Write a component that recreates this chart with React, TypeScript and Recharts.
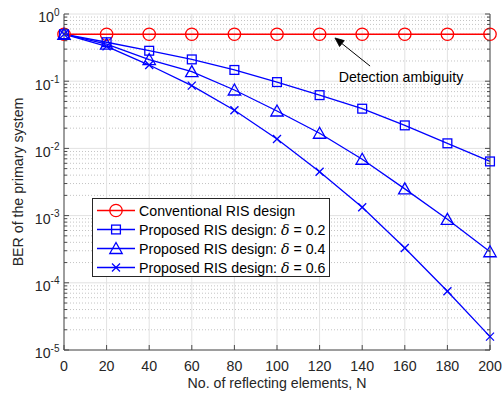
import React from 'react';
import { LineChart, Line, XAxis, YAxis, CartesianGrid, ReferenceLine, ReferenceDot } from 'recharts';

const N = [0, 20, 40, 60, 80, 100, 120, 140, 160, 180, 200];
const conventional = [0.5, 0.5, 0.5, 0.5, 0.5, 0.5, 0.5, 0.5, 0.5, 0.5, 0.5];
const delta02 = [0.5, 0.38, 0.284, 0.211, 0.147, 0.097, 0.062, 0.039, 0.022, 0.0119, 0.0064];
const delta04 = [0.5, 0.355, 0.21, 0.139, 0.074, 0.036, 0.0168, 0.0069, 0.0025, 0.00088, 0.00029];
const delta06 = [0.5, 0.33, 0.174, 0.086, 0.037, 0.0138, 0.0045, 0.00133, 0.00033, 0.000075, 0.0000158];

const xTicks = [0, 20, 40, 60, 80, 100, 120, 140, 160, 180, 200];
const majorExp = [0, -1, -2, -3, -4, -5];
const majorY = [1, 0.1, 0.01, 0.001, 0.0001, 0.00001];
const minorY = [
  0.9, 0.8, 0.7, 0.6, 0.5, 0.4, 0.3, 0.2,
  0.09, 0.08, 0.07, 0.06, 0.05, 0.04, 0.03, 0.02,
  0.009, 0.008, 0.007, 0.006, 0.005, 0.004, 0.003, 0.002,
  0.0009, 0.0008, 0.0007, 0.0006, 0.0005, 0.0004, 0.0003, 0.0002,
  0.00009, 0.00008, 0.00007, 0.00006, 0.00005, 0.00004, 0.00003, 0.00002,
];
const allY = [...majorY, ...minorY];

const seriesNames = [
  'Conventional RIS design',
  'Proposed RIS design: ',
  'Proposed RIS design: ',
  'Proposed RIS design: ',
];
const deltaLabels = ['', '0.2', '0.4', '0.6'];
const annotationText = 'Detection ambiguity';

const rows = N.map((n, i) => ({
  n,
  conv: conventional[i],
  d02: delta02[i],
  d04: delta04[i],
  d06: delta06[i],
}));

const FONT = 'Liberation Sans, Arial, Helvetica, sans-serif';
const FS = 14.2;
const TXT = '#262626';
const AX = '#4a4a4a';
const RED = '#ff0000';
const BLUE = '#0000ff';

type Shape = 'circle' | 'square' | 'triangle' | 'cross';

function Marker({ shape, cx, cy, color }: { shape: Shape; cx: number; cy: number; color: string }) {
  const sw = 1.3;
  if (shape === 'circle') return <circle cx={cx} cy={cy} r={6.2} fill="none" stroke={color} strokeWidth={sw} />;
  if (shape === 'square') return <rect x={cx - 4.4} y={cy - 4.4} width={8.8} height={8.8} fill="none" stroke={color} strokeWidth={sw} />;
  if (shape === 'triangle')
    return (
      <polygon
        points={`${cx},${cy - 6} ${cx - 6.2},${cy + 5} ${cx + 6.2},${cy + 5}`}
        fill="none"
        stroke={color}
        strokeWidth={sw}
      />
    );
  return (
    <g stroke={color} strokeWidth={sw}>
      <line x1={cx - 4} y1={cy - 4} x2={cx + 4} y2={cy + 4} />
      <line x1={cx - 4} y1={cy + 4} x2={cx + 4} y2={cy - 4} />
    </g>
  );
}

const dotFor = (shape: Shape, color: string) => (p: any) => (
  <Marker key={`${shape}-${p.index}`} shape={shape} cx={p.cx} cy={p.cy} color={color} />
);

const isMajor = (v: number) => majorY.some((m) => Math.abs(m - v) / m < 1e-6);

function LeftTick(props: any) {
  const { x, y, payload } = props;
  const v = payload.value as number;
  const major = isMajor(v);
  const idx = majorY.findIndex((m) => Math.abs(m - v) / m < 1e-6);
  return (
    <g>
      <line x1={x} y1={y} x2={x + (major ? 5 : 3)} y2={y} stroke={AX} strokeWidth={1} />
      {major && (
        <text x={x - 4.5} y={y + 8.4} textAnchor="end" fill={TXT} fontFamily={FONT} fontSize={FS}>
          <tspan>10</tspan>
          <tspan dy={-6.8} fontSize={10}>{String(majorExp[idx])}</tspan>
        </text>
      )}
    </g>
  );
}

function RightTick(props: any) {
  const { x, y, payload } = props;
  const major = isMajor(payload.value);
  return <line x1={x} y1={y} x2={x - (major ? 5 : 3)} y2={y} stroke={AX} strokeWidth={1} />;
}

function BottomTick(props: any) {
  const { x, y, payload } = props;
  return (
    <g>
      <line x1={x} y1={y} x2={x} y2={y - 5} stroke={AX} strokeWidth={1} />
      <text x={x} y={y + 21} textAnchor="middle" fill={TXT} fontFamily={FONT} fontSize={FS}>
        {payload.value}
      </text>
    </g>
  );
}

function TopTick(props: any) {
  const { x, y } = props;
  return <line x1={x} y1={y} x2={x} y2={y + 5} stroke={AX} strokeWidth={1} />;
}

function XLabel(props: any) {
  const vb = props.viewBox || { x: 64, y: 350, width: 426 };
  return (
    <text x={vb.x + vb.width / 2} y={vb.y + 38.3} textAnchor="middle" fill={TXT} fontFamily={FONT} fontSize={FS}>
      No. of reflecting elements, N
    </text>
  );
}

function YLabel(props: any) {
  const vb = props.viewBox || { x: 0, y: 14, height: 336 };
  const cx = 23;
  const cy = vb.y + vb.height / 2;
  return (
    <text x={cx} y={cy} transform={`rotate(-90, ${cx}, ${cy})`} textAnchor="middle" fill={TXT} fontFamily={FONT} fontSize={FS}>
      BER of the primary system
    </text>
  );
}

function ArrowShape(props: any) {
  const { x1, y1, x2, y2 } = props;
  const ang = Math.atan2(y2 - y1, x2 - x1);
  const L = 9;
  const W = 3.8;
  const bx = x2 - L * Math.cos(ang);
  const by = y2 - L * Math.sin(ang);
  const px = -Math.sin(ang) * W;
  const py = Math.cos(ang) * W;
  return (
    <g>
      <line x1={x1} y1={y1} x2={bx} y2={by} stroke="#000" strokeWidth={1} />
      <polygon points={`${x2},${y2} ${bx + px},${by + py} ${bx - px},${by - py}`} fill="#000" stroke="#000" strokeWidth={0.8} />
    </g>
  );
}

function AnnotationText(props: any) {
  const { cx, cy } = props;
  return (
    <text x={cx} y={cy + 4.8} textAnchor="middle" fill="#000" fontFamily={FONT} fontSize={FS}>
      {annotationText}
    </text>
  );
}

const legendShapes: Shape[] = ['circle', 'square', 'triangle', 'cross'];
const legendColors = [RED, BLUE, BLUE, BLUE];

function LegendBox() {
  return (
    <div
      style={{
        position: 'absolute',
        left: 92,
        top: 198,
        width: 238,
        height: 79,
        boxSizing: 'border-box',
        border: '1px solid #262626',
        background: '#fff',
      }}
    >
      <svg width={236} height={77} style={{ display: 'block' }}>
        {seriesNames.map((name, i) => {
          const cy = 11.5 + i * 19;
          return (
            <g key={i}>
              <line x1={4} y1={cy} x2={42} y2={cy} stroke={legendColors[i]} strokeWidth={1.3} />
              <Marker shape={legendShapes[i]} cx={23} cy={cy} color={legendColors[i]} />
              <text x={46} y={cy + 5} fill="#000" fontFamily={FONT} fontSize={FS}>
                {name}
                {deltaLabels[i] && (
                  <>
                    <tspan fontStyle="italic" fontFamily="DejaVu Serif, Liberation Serif, serif">δ</tspan>
                    <tspan>{` = ${deltaLabels[i]}`}</tspan>
                  </>
                )}
              </text>
            </g>
          );
        })}
      </svg>
    </div>
  );
}

export default function App() {
  return (
    <div style={{ position: 'absolute', left: 0, top: 0, width: 503, height: 393, background: '#fff' }}>
      <LineChart width={503} height={393} data={rows} margin={{ top: 14, right: 0, bottom: 0, left: 0 }}>
        <CartesianGrid stroke="#c4c4c4" strokeDasharray="1 2" vertical={false} horizontalValues={minorY} />
        <CartesianGrid stroke="#e2e2e2" horizontalValues={majorY} verticalValues={xTicks} />
        <XAxis
          dataKey="n"
          type="number"
          domain={[0, 200]}
          ticks={xTicks}
          interval={0}
          height={43}
          tickSize={0}
          tickMargin={0}
          tickLine={false}
          axisLine={{ stroke: AX, strokeWidth: 1 }}
          tick={<BottomTick />}
          label={<XLabel />}
        />
        <XAxis
          xAxisId="top"
          orientation="top"
          dataKey="n"
          type="number"
          domain={[0, 200]}
          ticks={xTicks}
          interval={0}
          height={0}
          tickSize={0}
          tickMargin={0}
          tickLine={false}
          axisLine={{ stroke: AX, strokeWidth: 1 }}
          tick={<TopTick />}
        />
        <YAxis
          type="number"
          scale="log"
          domain={[0.00001, 1]}
          allowDataOverflow
          ticks={allY}
          interval={0}
          width={64}
          tickSize={0}
          tickMargin={0}
          tickLine={false}
          axisLine={{ stroke: AX, strokeWidth: 1 }}
          tick={<LeftTick />}
          label={<YLabel />}
        />
        <YAxis
          yAxisId="r"
          orientation="right"
          type="number"
          scale="log"
          domain={[0.00001, 1]}
          allowDataOverflow
          ticks={allY}
          interval={0}
          width={13}
          tickSize={0}
          tickMargin={0}
          tickLine={false}
          axisLine={{ stroke: AX, strokeWidth: 1 }}
          tick={<RightTick />}
        />
        <Line dataKey="conv" stroke={RED} strokeWidth={1.3} dot={dotFor('circle', RED)} isAnimationActive={false} />
        <Line dataKey="d02" stroke={BLUE} strokeWidth={1.3} dot={dotFor('square', BLUE)} isAnimationActive={false} />
        <Line dataKey="d04" stroke={BLUE} strokeWidth={1.3} dot={dotFor('triangle', BLUE)} isAnimationActive={false} />
        <Line dataKey="d06" stroke={BLUE} strokeWidth={1.3} dot={dotFor('cross', BLUE)} isAnimationActive={false} />
        <ReferenceLine
          segment={[
            { x: 143.7, y: 0.168 },
            { x: 127.2, y: 0.44 },
          ]}
          shape={<ArrowShape />}
        />
        <ReferenceDot x={158.2} y={0.115} r={0} shape={<AnnotationText />} />
      </LineChart>
      <LegendBox />
    </div>
  );
}
